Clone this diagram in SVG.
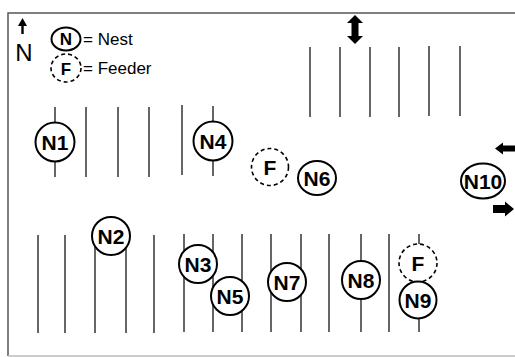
<svg xmlns="http://www.w3.org/2000/svg" width="515" height="357" viewBox="0 0 515 357">
<style>
.row{stroke:#333;stroke-width:1.5;fill:none}
.nest{fill:#fff;stroke:#000;stroke-width:2}
.feed{fill:#fff;stroke:#000;stroke-width:1.6;stroke-dasharray:4 3}
.lbl{font-family:"Liberation Sans",Arial,sans-serif;font-weight:bold;font-size:21px;text-anchor:middle;fill:#000}
.leg{font-family:"Liberation Sans",Arial,sans-serif;font-size:17px;fill:#000}
.arr{fill:#000}
</style>
<rect width="515" height="357" fill="#fff"/>
<g id="frame">
<path d="M520 13 H8 V356" fill="none" stroke="#555" stroke-width="1.5"/>
<path d="M8 356 H520" fill="none" stroke="#bbb" stroke-width="1.5"/>
</g>
<g id="legend">
<path d="M22.5 34 V24" stroke="#000" stroke-width="2.4"/>
<path d="M18 26 L22.5 18 L27 26 Z" class="arr"/>
<text x="24" y="61" class="leg" text-anchor="middle" style="font-size:24px">N</text>
<ellipse cx="66" cy="39" rx="14.5" ry="11.5" class="nest" stroke-width="1.5"/>
<text x="66" y="45" class="lbl" style="font-size:17px">N</text>
<text x="83" y="45" class="leg">= Nest</text>
<ellipse cx="66" cy="68" rx="15" ry="14" class="feed" stroke-width="1.3"/>
<text x="66" y="75" class="lbl" style="font-size:17px">F</text>
<text x="83" y="74" class="leg">= Feeder</text>
</g>
<g id="connectors">
<g id="rows-top">
<line x1="310" y1="47" x2="310" y2="117" class="row"/>
<line x1="340" y1="47" x2="340" y2="117" class="row"/>
<line x1="370" y1="47" x2="370" y2="117" class="row"/>
<line x1="399" y1="47" x2="399" y2="117" class="row"/>
<line x1="429" y1="46" x2="429" y2="116" class="row"/>
<line x1="460" y1="46" x2="460" y2="116" class="row"/>
</g>
<g id="rows-mid">
<line x1="55" y1="107" x2="55" y2="177" class="row"/>
<line x1="86" y1="107" x2="86" y2="177" class="row"/>
<line x1="118" y1="107" x2="118" y2="177" class="row"/>
<line x1="149" y1="107" x2="149" y2="177" class="row"/>
<line x1="182" y1="105" x2="182" y2="175" class="row"/>
<line x1="213" y1="106" x2="213" y2="176" class="row"/>
</g>
<g id="rows-bottom">
<line x1="38" y1="235" x2="38" y2="333" class="row"/>
<line x1="65" y1="235" x2="65" y2="333" class="row"/>
<line x1="95" y1="235" x2="95" y2="333" class="row"/>
<line x1="126" y1="235" x2="126" y2="333" class="row"/>
<line x1="154" y1="235" x2="154" y2="333" class="row"/>
<line x1="184" y1="234" x2="184" y2="332" class="row"/>
<line x1="213" y1="234" x2="213" y2="332" class="row"/>
<line x1="242" y1="234" x2="242" y2="332" class="row"/>
<line x1="271" y1="234" x2="271" y2="332" class="row"/>
<line x1="301" y1="234" x2="301" y2="332" class="row"/>
<line x1="329" y1="234" x2="329" y2="332" class="row"/>
<line x1="361" y1="234" x2="361" y2="332" class="row"/>
<line x1="389" y1="234" x2="389" y2="332" class="row"/>
<line x1="419" y1="234" x2="419" y2="332" class="row"/>
</g>
</g>
<g id="arrow-top">
<path d="M355 15 L363 23 L358.5 23 L358.5 36 L363 36 L355 44 L347 36 L351.5 36 L351.5 23 L347 23 Z" class="arr"/>
</g>
<g id="arrow-west">
<path d="M495 148.5 L503 142.5 L503 145.5 L516 145.5 L516 151.5 L503 151.5 L503 154.5 Z" class="arr"/>
</g>
<g id="arrow-east">
<path d="M493 205 L505 205 L505 201.5 L514 209 L505 216.5 L505 213 L493 213 Z" class="arr"/>
</g>
<g id="N1"><circle cx="55" cy="142" r="19.5" class="nest"/><text x="55" y="149.5" class="lbl">N1</text></g>
<g id="N4"><circle cx="213" cy="141" r="19.5" class="nest"/><text x="213" y="148.5" class="lbl">N4</text></g>
<g id="F1"><circle cx="270" cy="167" r="18.5" class="feed"/><text x="270" y="174.5" class="lbl">F</text></g>
<g id="N6"><ellipse cx="317" cy="178" rx="19" ry="17" class="nest"/><text x="317" y="185.5" class="lbl">N6</text></g>
<g id="N10"><ellipse cx="483" cy="181" rx="22" ry="17.5" class="nest"/><text x="483" y="188.5" class="lbl">N10</text></g>
<g id="N2"><circle cx="111" cy="236" r="19" class="nest"/><text x="111" y="243.5" class="lbl">N2</text></g>
<g id="N3"><circle cx="198" cy="264" r="19" class="nest"/><text x="198" y="271.5" class="lbl">N3</text></g>
<g id="N5"><circle cx="230" cy="296" r="19" class="nest"/><text x="230" y="303.5" class="lbl">N5</text></g>
<g id="N7"><circle cx="287" cy="282" r="19" class="nest"/><text x="287" y="289.5" class="lbl">N7</text></g>
<g id="N8"><circle cx="361" cy="280" r="19" class="nest"/><text x="361" y="287.5" class="lbl">N8</text></g>
<g id="F2"><circle cx="418" cy="263" r="19" class="feed"/><text x="418" y="270.5" class="lbl">F</text></g>
<g id="N9"><circle cx="418" cy="300" r="18.5" class="nest"/><text x="418" y="307.5" class="lbl">N9</text></g>
</svg>
